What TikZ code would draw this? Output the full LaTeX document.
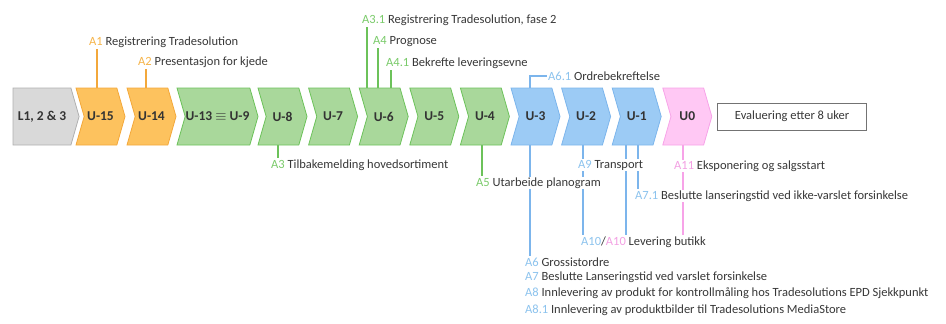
\documentclass[tikz,border=0pt]{standalone}
\usepackage{fontspec}
\setmainfont{Carlito}
\usetikzlibrary{positioning, shapes.symbols, backgrounds}

\definecolor{greyfill}{HTML}{D9D9D9}
\definecolor{greydraw}{HTML}{B0B0B0}
\definecolor{orfill}{HTML}{FDC25E}
\definecolor{ordraw}{HTML}{F3A83B}
\definecolor{ortag}{HTML}{F6B449}
\definecolor{grfill}{HTML}{A9D89B}
\definecolor{grdraw}{HTML}{6CC25A}
\definecolor{grtag}{HTML}{7ACB6A}
\definecolor{blfill}{HTML}{9CCBF5}
\definecolor{bldraw}{HTML}{7CB5EC}
\definecolor{bltag}{HTML}{8CC3EE}
\definecolor{pkfill}{HTML}{FFC8F4}
\definecolor{pkdraw}{HTML}{F7A3E8}
\definecolor{pktag}{HTML}{F3A0E3}

\begin{document}
\begin{tikzpicture}[x=1pt,y=1pt]
\tikzset{phase/.style={signal,signal to=east,signal from=west,signal pointer angle=148,minimum height=57pt,minimum width=49pt,inner sep=0pt,line width=0.8pt,text=black!80,font=\fontsize{13.5}{15}\selectfont\bfseries}}
\tikzset{task/.style={anchor=west,fill=white,inner sep=1pt,text=black!78,font=\fontsize{12.5}{14}\selectfont}}
\tikzset{link/.style={line width=1.3pt}}

\useasboundingbox (0,0) rectangle (946,-324);

  \node [phase, signal from=nowhere, fill=greyfill, draw=greydraw, minimum width=66pt] (l123) at (42,-116.5) {L1, 2 \& 3};
  \node [phase, fill=orfill, draw=ordraw] (u15) at (100.5,-116.5) {U-15};
  \node [phase, fill=orfill, draw=ordraw] (u14) at (151.5,-116.5) {U-14};
  \node [phase, fill=grfill, draw=grdraw, minimum width=81pt] (u13) at (217.5,-116.5) {U-13 $\equiv$ U-9};
  \node [phase, fill=grfill, draw=grdraw] (u8) at (282.5,-116.5) {U-8};
  \node [phase, fill=grfill, draw=grdraw] (u7) at (333.1,-116.5) {U-7};
  \node [phase, fill=grfill, draw=grdraw] (u6) at (383.7,-116.5) {U-6};
  \node [phase, fill=grfill, draw=grdraw] (u5) at (434.3,-116.5) {U-5};
  \node [phase, fill=grfill, draw=grdraw] (u4) at (484.9,-116.5) {U-4};
  \node [phase, fill=blfill, draw=bldraw] (u3) at (535.5,-116.5) {U-3};
  \node [phase, fill=blfill, draw=bldraw] (u2) at (586.1,-116.5) {U-2};
  \node [phase, fill=blfill, draw=bldraw] (u1) at (636.7,-116.5) {U-1};
  \node [phase, fill=pkfill, draw=pkdraw] (u0) at (687.3,-116.5) {U0};
  \node [draw=black!55, line width=0.8pt, minimum width=149pt, minimum height=27pt, inner sep=0pt, text=black!78, font=\fontsize{12.5}{14}\selectfont, right=5pt of u0] (eval) {Evaluering etter 8 uker};

% labels above
\node [task] (a1) at (88,-42) {\textcolor{ortag}{A1} Registrering Tradesolution};
\node [task] (a2) at (137,-62) {\textcolor{ortag}{A2} Presentasjon for kjede};
\node [task] (a31) at (361,-20) {\textcolor{grtag}{A3.1} Registrering Tradesolution, fase 2};
\node [task] (a4) at (372,-42) {\textcolor{grtag}{A4} Prognose};
\node [task] (a41) at (385,-63) {\textcolor{grtag}{A4.1} Bekrefte leveringsevne};
\node [task] (a61) at (547,-76) {\textcolor{bltag}{A6.1} Ordrebekreftelse};

% labels below
\node [task] (a3) at (270,-165) {\textcolor{grtag}{A3} Tilbakemelding hovedsortiment};
\node [task] (a5) at (475,-183) {\textcolor{grtag}{A5} Utarbeide planogram};
\node [task] (a9) at (577,-165) {\textcolor{bltag}{A9} Transport};
\node [task] (a11) at (673,-166) {\textcolor{pktag}{A11} Eksponering og salgsstart};
\node [task] (a71) at (634,-196) {\textcolor{bltag}{A7.1} Beslutte lanseringstid ved ikke-varslet forsinkelse};
\node [task] (a10) at (580,-242) {\textcolor{bltag}{A10}/\textcolor{pktag}{A10} Levering butikk};
\node [task] (a6) at (524,-262) {\textcolor{bltag}{A6} Grossistordre};
\node [task, below=3pt of a6.south west, anchor=north west] (a7) {\textcolor{bltag}{A7} Beslutte Lanseringstid ved varslet forsinkelse};
\node [task, below=3pt of a7.south west, anchor=north west] (a8) {\textcolor{bltag}{A8} Innlevering av produkt for kontrollmåling hos Tradesolutions EPD Sjekkpunkt};
\node [task, below=3pt of a8.south west, anchor=north west] (a81) {\textcolor{bltag}{A8.1} Innlevering av produktbilder til Tradesolutions MediaStore};

% connectors go under the labels that cross them
\begin{pgfonlayer}{background}
\draw [link, ordraw] ([xshift=-3.5pt]u15.north) -- ([xshift=-3.5pt]u15.north |- a1.south);
\draw [link, ordraw] ([xshift=-5.5pt]u14.north) -- ([xshift=-5.5pt]u14.north |- a2.south);
\draw [link, grdraw] ([xshift=-16.7pt]u6.north) -- ([xshift=-16.7pt]u6.north |- a31.south);
\draw [link, grdraw] ([xshift=-5.7pt]u6.north) -- ([xshift=-5.7pt]u6.north |- a4.south);
\draw [link, grdraw] ([xshift=7.3pt]u6.north) -- ([xshift=7.3pt]u6.north |- a41.south);
\draw [link, bldraw] ([xshift=-5.5pt]u3.north) |- (a61.west);
\draw [link, grdraw] ([xshift=-4.5pt]u8.south) -- ([xshift=-4.5pt]u8.south |- a3.north);
\draw [link, grdraw] ([xshift=-2.9pt]u4.south) -- ([xshift=-2.9pt]u4.south |- a5.north);
\draw [link, bldraw] ([xshift=-5.5pt]u3.south) -- ([xshift=-5.5pt]u3.south |- a6.north);
\draw [link, bldraw] ([xshift=-3.1pt]u2.south) -- ([xshift=-3.1pt]u2.south |- a10.north);
\draw [link, bldraw] ([xshift=-10.7pt]u1.south) -- ([xshift=-10.7pt]u1.south |- a10.north);
\draw [link, bldraw] ([xshift=1.3pt]u1.south) -- ([xshift=1.3pt]u1.south |- a71.north);
\draw [link, pkdraw] ([xshift=-4.3pt]u0.south) -- ([xshift=-4.3pt]u0.south |- a10.north);
\end{pgfonlayer}

\end{tikzpicture}
\end{document}
